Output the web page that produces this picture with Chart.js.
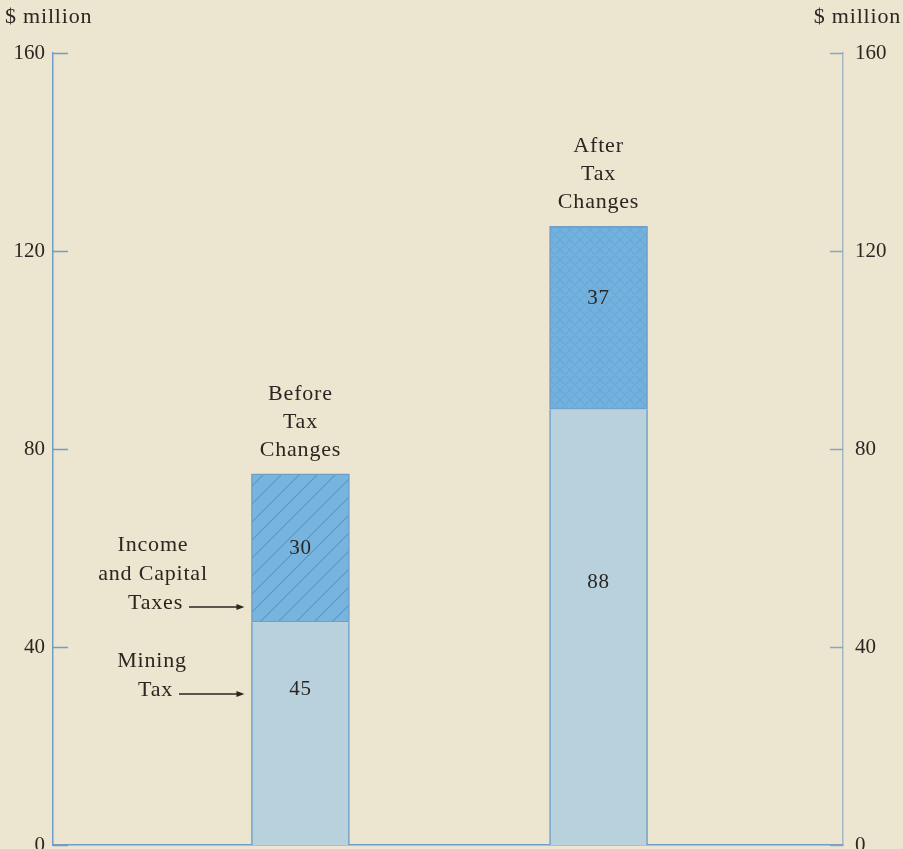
<!DOCTYPE html>
<html>
<head>
<meta charset="utf-8">
<script src="https://cdn.jsdelivr.net/npm/chart.js@4/dist/chart.umd.min.js"></script>
<style>
  html, body { margin: 0; padding: 0; background: #ece5cf; }
  #wrap { position: relative; width: 903px; height: 849px; }
</style>
</head>
<body>
<div id="wrap"><canvas id="taxes"></canvas></div>
<script>
// revenue in $ million, by tax, before and after the changes
const categories = ["Before Tax Changes", "After Tax Changes"];
const miningTax = [45, 88];
const incomeCapitalTax = [30, 37];
const tickValues = [0, 40, 80, 120, 160];

const FONT = "'Liberation Serif', 'DejaVu Serif', serif";
const AXIS_BLUE = "#6f9ec6";
const INK = "#2b2622";

// diagonal hatch for the first bar, cross hatch for the second
const makePattern = (cross) => {
  const n = cross ? 10 : 18;
  const c = document.createElement("canvas");
  c.width = n;
  c.height = n;
  const g = c.getContext("2d");
  g.fillStyle = cross ? "#73b2de" : "#78b5de";
  g.fillRect(0, 0, n, n);
  g.strokeStyle = cross ? "rgba(96,160,212,0.55)" : "#5598cd";
  g.lineWidth = cross ? 1.2 : 1.1;
  g.beginPath();
  g.moveTo(-2, n + 2); g.lineTo(n + 2, -2);
  g.moveTo(-2, 2); g.lineTo(2, -2);
  g.moveTo(n - 2, n + 2); g.lineTo(n + 2, n - 2);
  if (cross) {
    g.moveTo(-2, -2); g.lineTo(n + 2, n + 2);
    g.moveTo(n - 2, -2); g.lineTo(n + 2, 2);
    g.moveTo(-2, n - 2); g.lineTo(2, n + 2);
  }
  g.stroke();
  return document.createElement("canvas").getContext("2d").createPattern(c, "repeat");
};

// where the number sits inside each segment (value units)
const miningLabelAt = [31.5, 53];
const incomeLabelAt = [60, 110.5];

const textPlugin = {
  id: "texts",
  afterDraw(chart) {
    const { ctx, scales } = chart;
    const y = scales.y;
    const left = scales.y.right;
    const right = scales.y2.left;
    ctx.save();

    // inward tick marks on both vertical axes
    tickValues.forEach((v) => {
      const py = Math.round(y.getPixelForValue(v)) + 0.5;
      ctx.lineWidth = 1.5;
      ctx.strokeStyle = AXIS_BLUE;
      ctx.beginPath();
      ctx.moveTo(left, py); ctx.lineTo(left + 15, py);
      ctx.stroke();
      ctx.strokeStyle = "#8aa6bf";
      ctx.beginPath();
      ctx.moveTo(right - 13, py); ctx.lineTo(right, py);
      ctx.stroke();
    });

    ctx.fillStyle = INK;
    ctx.letterSpacing = "0.8px";
    ctx.font = "22px " + FONT;
    ctx.textBaseline = "middle";
    ctx.textAlign = "left";
    ctx.fillText("$ million", 5, 17);
    ctx.textAlign = "right";
    ctx.fillText("$ million", 901, 17);

    const mining = chart.getDatasetMeta(0).data;
    const income = chart.getDatasetMeta(1).data;
    ctx.textAlign = "center";
    ctx.font = "21px " + FONT;
    mining.forEach((bar, i) => {
      ctx.fillText(String(miningTax[i]), bar.x, y.getPixelForValue(miningLabelAt[i]));
    });
    income.forEach((bar, i) => {
      ctx.fillText(String(incomeCapitalTax[i]), bar.x, y.getPixelForValue(incomeLabelAt[i]));
    });

    // bar titles stacked above each bar
    ctx.font = "22px " + FONT;
    income.forEach((bar, i) => {
      const lines = categories[i].split(" ");
      const base = bar.y - 24;
      lines.forEach((line, k) => {
        ctx.fillText(line, bar.x, base - (lines.length - 1 - k) * 28);
      });
    });

    // side notes with arrows pointing at the first bar
    const barLeft = mining[0].x - mining[0].width / 2;
    const note = (lines, cx, lastY, arrowFrom) => {
      lines.forEach((line, k) => {
        const last = k === lines.length - 1;
        ctx.textAlign = last ? "right" : "center";
        ctx.fillText(line, last ? arrowFrom - 6 : cx, lastY - (lines.length - 1 - k) * 29);
      });
      const ay = lastY + 4;
      ctx.strokeStyle = INK;
      ctx.lineWidth = 1.3;
      ctx.beginPath();
      ctx.moveTo(arrowFrom, ay);
      ctx.lineTo(barLeft - 12, ay);
      ctx.stroke();
      ctx.beginPath();
      ctx.moveTo(barLeft - 7, ay);
      ctx.lineTo(barLeft - 15, ay - 3);
      ctx.lineTo(barLeft - 15, ay + 3);
      ctx.closePath();
      ctx.fill();
    };
    note(["Income", "and Capital", "Taxes"], 153, 603, 189);
    note(["Mining", "Tax"], 152, 690, 179);

    ctx.restore();
  },
};

const toPoints = (values) => values.map((v, i) => ({ x: i, y: v }));
const noPad = (s) => { s.paddingTop = 0; s.paddingBottom = 0; };

new Chart(document.getElementById("taxes"), {
  type: "bar",
  data: {
    datasets: [
      {
        label: "Mining Tax",
        data: toPoints(miningTax),
        backgroundColor: "#b8d1dc",
        borderColor: AXIS_BLUE,
        borderWidth: { left: 1.5, right: 1.5, top: 0, bottom: 0 },
        borderSkipped: false,
        barThickness: 98,
      },
      {
        label: "Income and Capital Taxes",
        data: toPoints(incomeCapitalTax),
        backgroundColor: [makePattern(false), makePattern(true)],
        borderColor: AXIS_BLUE,
        borderWidth: 1.5,
        borderSkipped: false,
        barThickness: 98,
      },
    ],
  },
  options: {
    responsive: true,
    maintainAspectRatio: false,
    animation: false,
    layout: { padding: { top: 53, bottom: 4, left: 0, right: 0 } },
    plugins: { legend: { display: false }, tooltip: { enabled: false } },
    scales: {
      x: {
        type: "linear",
        stacked: true,
        offset: false,
        min: -0.83,
        max: 1.82,
        ticks: { display: false },
        grid: { display: false, drawTicks: false, offset: false },
        border: { display: true, color: AXIS_BLUE, width: 1.5 },
        afterFit: (s) => { s.height = 0; },
      },
      y: {
        stacked: true,
        min: 0,
        max: 160,
        afterBuildTicks: (s) => { s.ticks = tickValues.map((v) => ({ value: v })); },
        ticks: { color: INK, font: { family: FONT, size: 21 }, padding: 8 },
        grid: { display: false, drawTicks: false },
        border: { display: true, color: AXIS_BLUE, width: 1.5 },
        afterFit: (s) => { s.width = 53; noPad(s); },
      },
      y2: {
        position: "right",
        min: 0,
        max: 160,
        afterBuildTicks: (s) => { s.ticks = tickValues.map((v) => ({ value: v })); },
        ticks: { color: INK, font: { family: FONT, size: 21 }, padding: 12 },
        grid: { display: false, drawTicks: false },
        border: { display: true, color: "#a7b7c6", width: 1.5 },
        afterFit: (s) => { s.width = 60; noPad(s); },
      },
    },
  },
  plugins: [textPlugin],
});
</script>
</body>
</html>
